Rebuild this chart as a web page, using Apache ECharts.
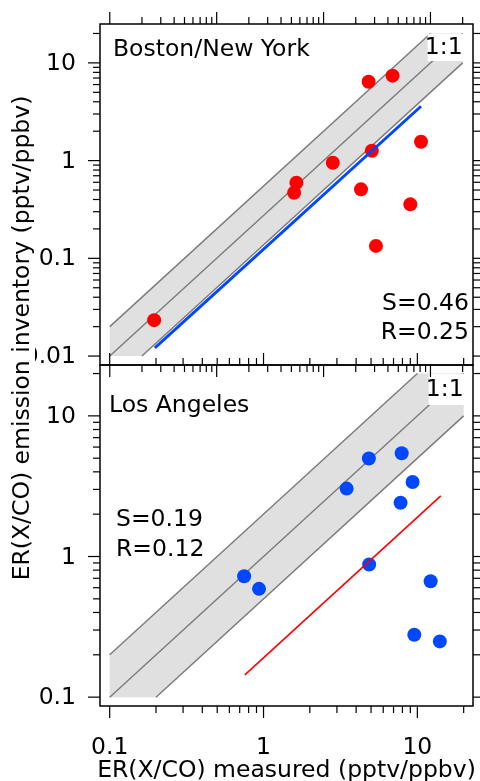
<!DOCTYPE html>
<html><head><meta charset="utf-8">
<script src="https://cdn.jsdelivr.net/npm/echarts@6/dist/echarts.min.js"></script>
<style>html,body{margin:0;padding:0;background:#fff}#c{width:480px;height:781px}</style>
</head><body><div id="c"></div>
<script>
// ---- data ----
// Boston / New York panel
const bnyMeasured  = [2.64, 4.42, 2.83, 8.16, 1.22, 0.557, 0.53, 2.24, 6.48, 3.09, 0.026];
const bnyInventory = [6.42, 7.40, 1.26, 1.56, 0.95, 0.594, 0.469, 0.508, 0.357, 0.134, 0.0233];
const bnyFitX = [0.0264, 8.16];
const bnyFitY = [0.0121, 3.6];
const bnyStats = ['S=0.46', 'R=0.25'];
// Los Angeles panel
const laMeasured  = [4.84, 7.91, 3.47, 9.31, 7.78, 4.86, 0.748, 0.935, 12.2, 9.55, 14.0];
const laInventory = [4.97, 5.42, 3.04, 3.39, 2.41, 0.877, 0.724, 0.589, 0.667, 0.278, 0.249];
const laFitX = [0.756, 14.2];
const laFitY = [0.144, 2.7];
const laStats = ['S=0.19', 'R=0.12'];
// 1:1 line and factor-of-2 band
const bnyBandX = [0.01, 0.01, 10, 20, 20, 0.02];
const bnyBandY = [0.01, 0.02, 20, 20, 10, 0.01];
const bnyUpper = [[0.01, 0.02], [10, 20]];
const bnyCenter = [[0.01, 0.01], [20, 20]];
const bnyLower = [[0.02, 0.01], [20, 10]];
const laBandX = [0.1, 0.1, 10, 20, 20, 0.2];
const laBandY = [0.1, 0.2, 20, 20, 10, 0.1];
const laUpper = [[0.1, 0.2], [10, 20]];
const laCenter = [[0.1, 0.1], [20, 20]];
const laLower = [[0.2, 0.1], [20, 10]];
// axis ranges
const bnyRange = [0.0081, 25];
const laRange = [0.0865, 23];
// ticks and tick labels
const bnyTicks = [0.01,0.02,0.03,0.04,0.05,0.06,0.07,0.08,0.09,0.1,0.2,0.3,0.4,0.5,0.6,0.7,0.8,0.9,1,2,3,4,5,6,7,8,9,10,20];
const bnyMajor = [0.01, 0.1, 1, 10];
const laTicks = [0.1,0.2,0.3,0.4,0.5,0.6,0.7,0.8,0.9,1,2,3,4,5,6,7,8,9,10,20];
const laMajor = [0.1, 1, 10];
const bnyYLabels = [0.01, 0.1, 1, 10];
const laYLabels = [0.1, 1, 10];
const laXLabels = [0.1, 1, 10];

const FONT = 'DejaVu Sans';
const FS = 23.5;
const RED = '#ff0000';
const BLUE = '#0048ff';
const GREY_LINE = '#7a7a7a';
const GREY_FILL = '#e0e0e0';

function tickData(ticks, major) {
  const out = [];
  ticks.forEach(t => {
    const m = major.indexOf(t) >= 0 ? 1 : 0;
    out.push([t, t, m, 0]);
    out.push([t, t, m, 1]);
  });
  return out;
}
function renderTick(params, api) {
  const v = api.value(0), major = api.value(2), kind = api.value(3);
  const cs = params.coordSys;
  const L = major ? 12 : 7;
  const p = api.coord([v, v]);
  const st = {stroke: '#000', lineWidth: 1.2};
  if (kind === 0) {
    const x = p[0];
    return {type: 'group', children: [
      {type: 'line', shape: {x1: x, y1: cs.y, x2: x, y2: cs.y - L}, style: st},
      {type: 'line', shape: {x1: x, y1: cs.y + cs.height, x2: x, y2: cs.y + cs.height + L}, style: st}
    ]};
  }
  const y = p[1];
  return {type: 'group', children: [
    {type: 'line', shape: {x1: cs.x, y1: y, x2: cs.x - L, y2: y}, style: st},
    {type: 'line', shape: {x1: cs.x + cs.width, y1: y, x2: cs.x + cs.width + L, y2: y}, style: st}
  ]};
}
function renderLabel(params, api) {
  const v = api.value(0), kind = api.value(2);
  const cs = params.coordSys;
  const p = api.coord([v, v]);
  const base = {text: String(v), fontSize: FS, fontFamily: FONT, fill: '#000'};
  if (kind === 0) {
    return {type: 'text', x: p[0], y: cs.y + cs.height + 42,
      style: Object.assign({align: 'center', verticalAlign: 'middle'}, base)};
  }
  return {type: 'text', x: cs.x - 24, y: p[1] + 1,
    style: Object.assign({align: 'right', verticalAlign: 'middle'}, base)};
}
function bandRenderer(bx, by) {
  return function (params, api) {
    if (params.dataIndex !== 0) return null;
    const pts = bx.map((x, i) => api.coord([x, by[i]]));
    return {type: 'polygon', shape: {points: pts}, style: {fill: GREY_FILL}};
  };
}
function oneToOneRenderer(dy) {
  return function (params, api) {
    const a = api.coord([api.value(0), api.value(1)]);
    return {type: 'group', children: [
      {type: 'rect', shape: {x: a[0] - 35, y: a[1] + 0.5, width: 36, height: dy * 2 - 1}, style: {fill: '#fff'}},
      {type: 'text', x: a[0], y: a[1] + dy,
        style: {text: '1:1', fontSize: FS, fontFamily: FONT, fill: '#000', align: 'right', verticalAlign: 'middle'}}
    ]};
  };
}
function panelSeries(gi, o) {
  const ax = {xAxisIndex: gi, yAxisIndex: gi};
  const labelData = [];
  if (o.xLabels) o.xLabels.forEach(v => labelData.push([v, v, 0]));
  o.yLabels.forEach(v => labelData.push([v, v, 1]));
  return [
    Object.assign({type: 'custom', data: [[o.bandX[0], o.bandY[0]]], renderItem: bandRenderer(o.bandX, o.bandY), silent: true, z: 1}, ax),
    Object.assign({type: 'line', data: o.upper, symbol: 'none', lineStyle: {color: GREY_LINE, width: 1.4}, silent: true, z: 2}, ax),
    Object.assign({type: 'line', data: o.center, symbol: 'none', lineStyle: {color: GREY_LINE, width: 1.4}, silent: true, z: 2}, ax),
    Object.assign({type: 'line', data: o.lower, symbol: 'none', lineStyle: {color: GREY_LINE, width: 1.4}, silent: true, z: 2}, ax),
    Object.assign({type: 'custom', data: [[20, 20]], renderItem: oneToOneRenderer(o.boxDy), silent: true, z: 3}, ax),
    Object.assign({type: 'scatter', data: o.mx.map((x, i) => [x, o.my[i]]), symbol: 'circle', symbolSize: 14,
      itemStyle: {color: o.ptColor, opacity: 1}, silent: true, z: 4}, ax),
    Object.assign({type: 'line', data: o.fx.map((x, i) => [x, o.fy[i]]), symbol: 'none',
      lineStyle: {color: o.fitColor, width: o.fitWidth}, silent: true, z: 5}, ax),
    Object.assign({type: 'custom', data: tickData(o.ticks, o.major), renderItem: renderTick, clip: false, silent: true, z: 6}, ax),
    Object.assign({type: 'custom', data: labelData, renderItem: renderLabel, clip: false, silent: true, z: 6}, ax)
  ];
}

const axisCommon = {type: 'log', logBase: 10, axisLine: {show: false}, axisTick: {show: false},
  axisLabel: {show: false}, splitLine: {show: false}, minorTick: {show: false}, minorSplitLine: {show: false}};

const chart = echarts.init(document.getElementById('c'), null, {renderer: 'canvas'});
const txt = (t, x, y, align, extra) => Object.assign({type: 'text', x: x, y: y, z: 100,
  style: {text: t, fontSize: FS, fontFamily: FONT, fill: '#000', align: align, verticalAlign: 'middle'}}, extra || {});

chart.setOption({
  animation: false,
  backgroundColor: '#fff',
  grid: [
    {left: 100, top: 24, width: 373, height: 341, show: true, borderColor: '#000', borderWidth: 1.5, backgroundColor: 'transparent', outerBoundsMode: 'none', containLabel: false},
    {left: 100, top: 365, width: 373, height: 341, show: true, borderColor: '#000', borderWidth: 1.5, backgroundColor: 'transparent', outerBoundsMode: 'none', containLabel: false}
  ],
  xAxis: [
    Object.assign({gridIndex: 0, min: bnyRange[0], max: bnyRange[1]}, axisCommon),
    Object.assign({gridIndex: 1, min: laRange[0], max: laRange[1]}, axisCommon)
  ],
  yAxis: [
    Object.assign({gridIndex: 0, min: bnyRange[0], max: bnyRange[1]}, axisCommon),
    Object.assign({gridIndex: 1, min: laRange[0], max: laRange[1]}, axisCommon)
  ],
  series: [].concat(
    panelSeries(0, {bandX: bnyBandX, bandY: bnyBandY, upper: bnyUpper, center: bnyCenter, lower: bnyLower,
      mx: bnyMeasured, my: bnyInventory, fx: bnyFitX, fy: bnyFitY, ptColor: RED, fitColor: BLUE, fitWidth: 3,
      ticks: bnyTicks, major: bnyMajor, yLabels: bnyYLabels, boxDy: 14}),
    panelSeries(1, {bandX: laBandX, bandY: laBandY, upper: laUpper, center: laCenter, lower: laLower,
      mx: laMeasured, my: laInventory, fx: laFitX, fy: laFitY, ptColor: BLUE, fitColor: RED, fitWidth: 1.6,
      ticks: laTicks, major: laMajor, yLabels: laYLabels, xLabels: laXLabels, boxDy: 16})
  ),
  graphic: [
    txt('Boston/New York', 113, 49.5, 'left'),
    txt(bnyStats[0], 469, 304, 'right'),
    txt(bnyStats[1], 469, 333, 'right'),
    txt('Los Angeles', 109, 405.5, 'left'),
    txt(laStats[0], 116, 520, 'left'),
    txt(laStats[1], 116, 549.5, 'left'),
    txt('ER(X/CO) measured (pptv/ppbv)', 286.5, 770.5, 'center'),
    {type: 'text', x: 23, y: 338, rotation: Math.PI / 2, z: 100,
      style: {text: 'ER(X/CO) emission inventory (pptv/ppbv)', fontSize: FS, fontFamily: FONT, fill: '#000',
        align: 'center', verticalAlign: 'middle', backgroundColor: '#fff', padding: [0, 1, 0, 1]}}
  ]
});
</script></body></html>
